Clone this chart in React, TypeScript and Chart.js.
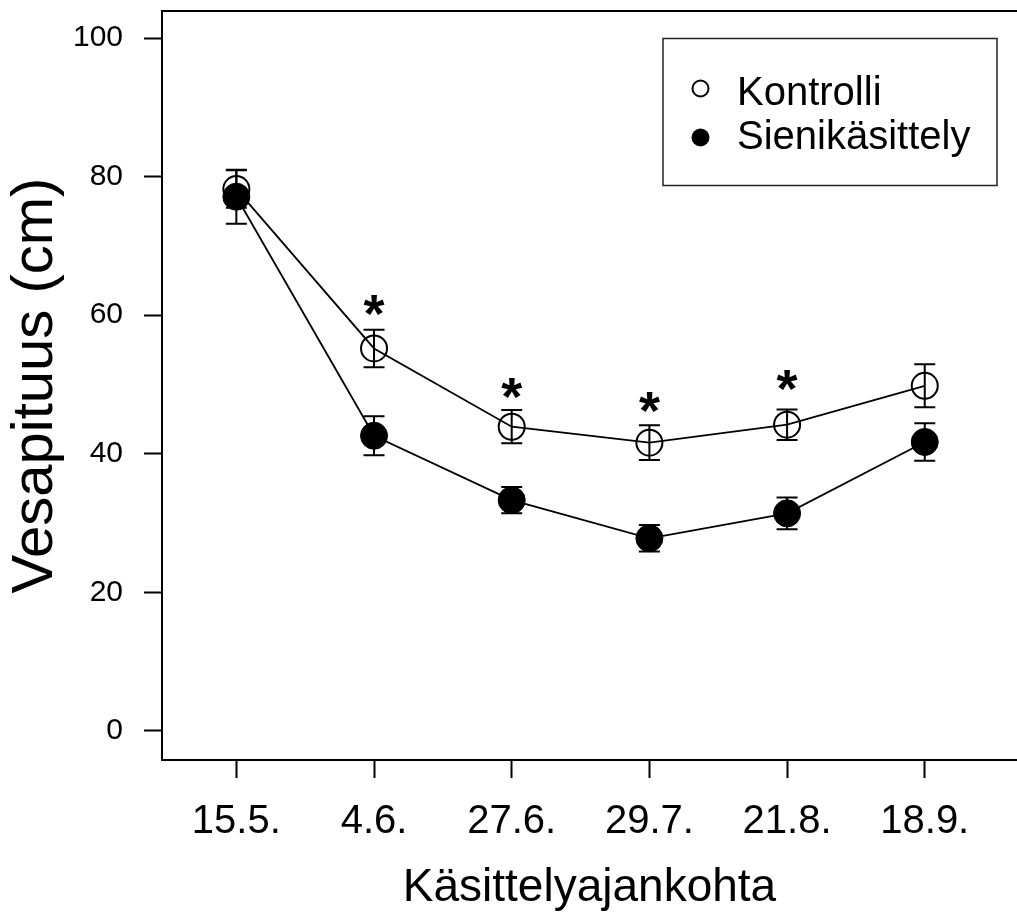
import React, { useEffect, useRef } from "react";
import { Chart, registerables } from "chart.js";

Chart.register(...registerables);

const categories = ["15.5.", "4.6.", "27.6.", "29.7.", "21.8.", "18.9."];
const kontrolliMean = [78.2, 55.2, 43.9, 41.6, 44.2, 49.8];
const kontrolliErr = [2.7, 2.7, 2.4, 2.5, 2.2, 3.1];
const sieniMean = [77.1, 42.6, 33.3, 27.8, 31.4, 41.7];
const sieniErr = [3.9, 2.8, 1.9, 1.9, 2.3, 2.7];
const asteriskY: (number | null)[] = [null, 62.2, 50.2, 48.2, 51.4, null];
const yTicks = [0, 20, 40, 60, 80, 100];
const legendLabels = ["Kontrolli", "Sienikäsittely"];

const FONT = "'Liberation Sans', Arial, sans-serif";

const errorBarPlugin = {
  id: "errorBars",
  beforeDatasetsDraw(chart: any) {
    const { ctx, scales } = chart;
    const x = scales.x;
    const y = scales.y;
    ctx.save();
    ctx.strokeStyle = "#000";
    ctx.lineWidth = 2;
    const draw = (means: number[], errs: number[]) => {
      means.forEach((m, i) => {
        const px = x.getPixelForValue(i);
        const top = y.getPixelForValue(m + errs[i]);
        const bot = y.getPixelForValue(m - errs[i]);
        ctx.beginPath();
        ctx.moveTo(px, top);
        ctx.lineTo(px, bot);
        ctx.moveTo(px - 10.5, top);
        ctx.lineTo(px + 10.5, top);
        ctx.moveTo(px - 10.5, bot);
        ctx.lineTo(px + 10.5, bot);
        ctx.stroke();
      });
    };
    draw(kontrolliMean, kontrolliErr);
    draw(sieniMean, sieniErr);
    ctx.restore();
  },
};

const decorPlugin = {
  id: "decor",
  afterDraw(chart: any) {
    const { ctx, chartArea, scales } = chart;
    const x = scales.x;
    const y = scales.y;
    ctx.save();
    // top frame line
    ctx.strokeStyle = "#000";
    ctx.lineWidth = 2;
    ctx.beginPath();
    ctx.moveTo(chartArea.left - 1, chartArea.top);
    ctx.lineTo(chart.width, chartArea.top);
    ctx.stroke();

    // asterisks
    const starSize = 54;
    ctx.fillStyle = "#000";
    ctx.font = `bold ${starSize}px ${FONT}`;
    ctx.textAlign = "center";
    ctx.textBaseline = "alphabetic";
    asteriskY.forEach((v, i) => {
      if (v == null) return;
      const px = x.getPixelForValue(i);
      const py = y.getPixelForValue(v);
      ctx.fillText("*", px, py + 0.6 * starSize);
    });

    // legend box
    ctx.strokeStyle = "#222";
    ctx.lineWidth = 1.5;
    ctx.strokeRect(663, 38.5, 334, 147);
    // markers
    ctx.lineWidth = 2;
    ctx.strokeStyle = "#000";
    ctx.beginPath();
    ctx.arc(700.5, 88.5, 8, 0, Math.PI * 2);
    ctx.stroke();
    ctx.beginPath();
    ctx.arc(700.5, 137.5, 9, 0, Math.PI * 2);
    ctx.fill();
    ctx.font = `40px ${FONT}`;
    ctx.textAlign = "left";
    ctx.textBaseline = "alphabetic";
    ctx.fillText(legendLabels[0], 737, 105);
    ctx.fillText(legendLabels[1], 737, 149);
    ctx.restore();
  },
};

const zeroPad = (scale: any) => {
  scale.paddingLeft = 0;
  scale.paddingRight = 0;
  scale.paddingTop = 0;
  scale.paddingBottom = 0;
};

export default function App() {
  const canvasRef = useRef<HTMLCanvasElement | null>(null);

  useEffect(() => {
    document.body.style.margin = "0";
    const canvas = canvasRef.current;
    if (!canvas) return;
    const chart = new Chart(canvas, {
      type: "line",
      data: {
        datasets: [
          {
            label: legendLabels[0],
            data: kontrolliMean.map((v, i) => ({ x: i, y: v })),
            borderColor: "#000",
            borderWidth: 1.8,
            pointRadius: 13,
            pointBorderWidth: 2,
            pointBackgroundColor: "rgba(0,0,0,0)",
            pointBorderColor: "#000",
            fill: false,
            tension: 0,
            order: 2,
          },
          {
            label: legendLabels[1],
            data: sieniMean.map((v, i) => ({ x: i, y: v })),
            borderColor: "#000",
            borderWidth: 1.8,
            pointRadius: 13.5,
            pointBorderWidth: 1,
            pointBackgroundColor: "#000",
            pointBorderColor: "#000",
            fill: false,
            tension: 0,
            order: 1,
          },
        ],
      },
      options: {
        animation: false,
        responsive: false,
        maintainAspectRatio: false,
        layout: { autoPadding: false, padding: { top: 11, left: 0, right: 0, bottom: 0 } },
        plugins: {
          legend: { display: false },
          tooltip: { enabled: false },
        },
        scales: {
          x: {
            type: "linear",
            min: -0.54,
            max: 5.67,
            afterBuildTicks: (scale: any) => {
              scale.ticks = categories.map((_, i) => ({ value: i }));
            },
            afterFit: (scale: any) => {
              scale.height = 161;
              zeroPad(scale);
            },
            grid: {
              display: true,
              drawOnChartArea: false,
              drawTicks: true,
              tickLength: 18,
              tickWidth: 2,
              tickColor: "#000",
            },
            border: { display: true, color: "#000", width: 2 },
            ticks: {
              autoSkip: false,
              maxRotation: 0,
              padding: 20,
              color: "#000",
              font: { family: FONT, size: 40 },
              callback: (v: any) => categories[v as number] ?? "",
            },
            title: {
              display: true,
              text: "Käsittelyajankohta",
              color: "#000",
              font: { family: FONT, size: 46 },
              padding: { top: 0, bottom: 5 },
            },
          },
          y: {
            type: "linear",
            min: -4.2,
            max: 103.9,
            afterBuildTicks: (scale: any) => {
              scale.ticks = yTicks.map((v) => ({ value: v }));
            },
            afterFit: (scale: any) => {
              scale.width = 162;
              zeroPad(scale);
            },
            grid: {
              display: true,
              drawOnChartArea: false,
              drawTicks: true,
              tickLength: 18,
              tickWidth: 2,
              tickColor: "#000",
            },
            border: { display: true, color: "#000", width: 2 },
            ticks: {
              padding: 21,
              color: "#000",
              font: { family: FONT, size: 30 },
            },
            title: {
              display: true,
              text: "Vesapituus (cm)",
              color: "#000",
              font: { family: FONT, size: 58 },
              padding: { top: 1, bottom: 0 },
            },
          },
        },
      },
      plugins: [errorBarPlugin, decorPlugin],
    });
    return () => chart.destroy();
  }, []);

  return (
    <div style={{ position: "absolute", left: 0, top: 0, width: 1017, height: 921 }}>
      <canvas ref={canvasRef} width={1017} height={921} style={{ width: 1017, height: 921 }} />
    </div>
  );
}
